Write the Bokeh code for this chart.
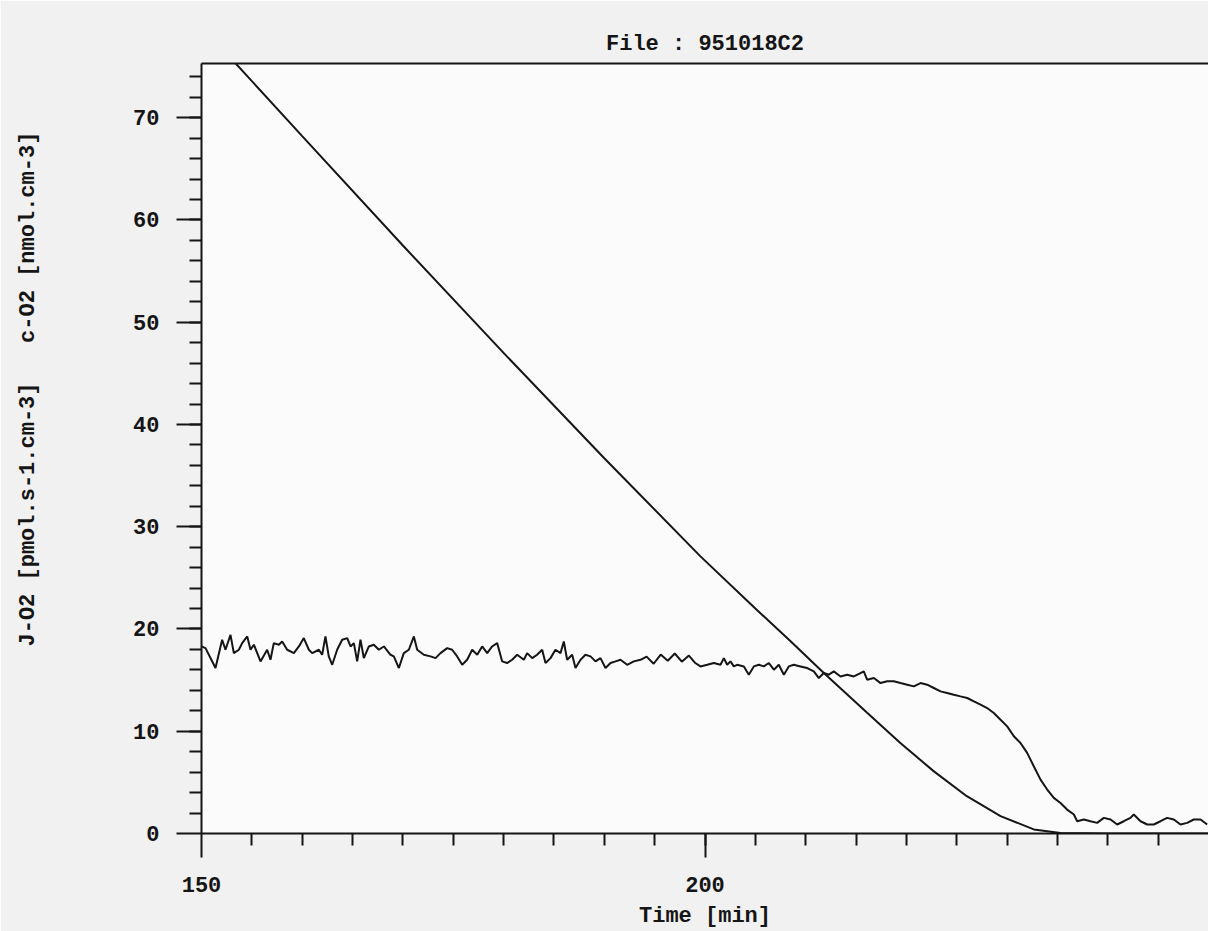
from bokeh.plotting import figure
from bokeh.models import FixedTicker, LinearAxis, Range1d
from bokeh.embed import file_html
from bokeh.resources import INLINE

# ---------------- data ----------------
title_text = "File : 951018C2"
x_label = "Time [min]"
y_label = "J-O2 [pmol.s-1.cm-3]\u00a0\u00a0\u00a0c-O2 [nmol.cm-3]"

x_major = [150, 200]
x_minor = list(range(155, 250, 5))
y_major = [0, 10, 20, 30, 40, 50, 60, 70]
y_minor = list(range(2, 76, 2))

# oxygen concentration c-O2 [nmol.cm-3]
conc_time = [153.4, 160.0, 170.0, 180.0, 190.0, 199.55, 205.0, 208.5, 211.8, 216.1,
             219.4, 222.7, 226.0, 229.35, 232.65, 235.3, 240.0, 250.0]
conc_value = [75.3, 68.2, 57.5, 47.0, 36.7, 27.1, 22.0, 18.8, 15.7, 11.8,
              8.85, 6.1, 3.65, 1.7, 0.4, 0.05, 0.0, 0.0]

# oxygen flux J-O2 [pmol.s-1.cm-3]
flux_time = [150.0, 150.40, 151.39, 152.05, 152.38, 152.88, 153.21, 153.71, 154.04,
             154.54, 154.87, 155.20, 155.86, 156.52, 156.85, 157.18, 157.68, 158.01,
             158.51, 159.17, 159.67, 160.16, 160.66, 160.99, 161.65, 161.98, 162.31,
             162.64, 162.98, 163.47, 163.97, 164.47, 164.80, 165.13, 165.46, 165.79,
             166.12, 166.62, 167.11, 167.61, 168.11, 168.77, 169.10, 169.60, 170.09,
             170.59, 171.09, 171.42, 172.08, 172.74, 173.24, 173.73, 174.40, 174.89,
             175.39, 175.89, 176.38, 176.88, 177.38, 177.87, 178.37, 178.86, 179.36,
             179.86, 180.35, 180.85, 181.35, 182.01, 182.34, 182.84, 183.33, 183.83,
             184.16, 184.66, 185.15, 185.65, 185.98, 186.31, 186.81, 187.14, 187.64,
             188.13, 188.63, 189.13, 189.62, 190.12, 190.62, 191.11, 191.61, 192.27,
             192.93, 193.60, 194.2, 194.9, 195.6, 196.3, 197.0, 197.7, 198.4, 199.0,
             199.55, 200.22, 200.88, 201.54, 201.87, 202.20, 202.53, 202.86, 203.19,
             203.86, 204.35, 204.85, 205.35, 205.84, 206.34, 206.84, 207.33, 207.83,
             208.32, 208.82, 209.48, 210.15, 210.81, 211.30, 211.80, 212.30, 212.79,
             213.46, 214.12, 214.78, 215.44, 215.77, 216.10, 216.77, 217.43, 218.09,
             218.75, 219.41, 220.08, 220.74, 221.40, 222.06, 222.72, 223.39, 224.05,
             224.71, 225.37, 226.04, 226.70, 227.36, 228.02, 228.68, 229.35, 230.01,
             230.67, 231.33, 231.99, 232.65, 233.32, 233.98, 234.64, 235.30, 235.96,
             236.63, 236.96, 237.62, 238.28, 238.94, 239.61, 240.27, 240.93, 241.59,
             242.25, 242.58, 243.25, 243.91, 244.57, 245.23, 245.89, 246.56, 247.22,
             247.88, 248.54, 249.21, 249.87]
flux_value = [18.3, 18.13, 16.18, 18.95, 17.97, 19.43, 17.64, 17.97, 18.62,
              19.27, 17.97, 18.46, 16.83, 17.97, 16.99, 18.62, 18.46, 18.78,
              17.97, 17.64, 18.29, 19.11, 17.97, 17.64, 17.97, 17.48, 19.27,
              17.32, 16.50, 17.97, 18.95, 19.11, 18.29, 18.62, 16.83, 18.95,
              17.15, 18.29, 18.46, 17.97, 18.29, 17.48, 17.32, 16.18, 17.64,
              17.97, 19.27, 17.97, 17.48, 17.32, 17.15, 17.64, 18.13, 17.97,
              17.32, 16.50, 16.99, 17.97, 17.48, 18.29, 17.64, 18.29, 18.62,
              16.83, 16.67, 16.99, 17.48, 16.99, 17.64, 17.15, 17.48, 17.97,
              16.67, 17.15, 17.97, 17.64, 18.78, 16.99, 17.48, 16.18, 16.99,
              17.48, 17.32, 16.83, 17.15, 16.18, 16.67, 16.83, 16.99, 16.50,
              16.83, 16.99, 17.3, 16.6, 17.5, 16.9, 17.6, 16.8, 17.4, 16.7,
              16.34, 16.50, 16.67, 16.50, 17.15, 16.50, 16.83, 16.34, 16.50,
              16.34, 15.53, 16.34, 16.50, 16.34, 16.67, 16.02, 16.50, 15.53,
              16.34, 16.50, 16.34, 16.18, 15.85, 15.20, 15.69, 15.53, 15.85,
              15.36, 15.53, 15.36, 15.69, 15.85, 15.04, 15.20, 14.71, 14.88,
              14.88, 14.71, 14.55, 14.39, 14.71, 14.55, 14.23, 13.90, 13.74,
              13.57, 13.41, 13.25, 12.92, 12.60, 12.27, 11.78, 11.13, 10.48,
              9.51, 8.85, 7.88, 6.58, 5.27, 4.30, 3.48, 2.99, 2.34,
              1.86, 1.20, 1.37, 1.20, 1.04, 1.53, 1.37, 0.88, 1.20,
              1.53, 1.86, 1.20, 0.88, 0.88, 1.20, 1.53, 1.37, 0.88,
              1.04, 1.37, 1.37, 0.88]

# ---------------- figure ----------------
FONT = "Liberation Mono"
INK = "#151515"

p = figure(width=1208, height=931,
           x_range=Range1d(150, 250), y_range=Range1d(0, 75.3),
           output_backend="svg", toolbar_location=None,
           title=title_text,
           min_border_left=201, min_border_right=0,
           min_border_top=63, min_border_bottom=97)

p.grid.visible = False
p.outline_line_color = None
p.background_fill_color = "#fbfbfb"
p.border_fill_color = "#f1f1f1"

p.title.align = "center"
p.title.text_font = FONT
p.title.text_font_style = "bold"
p.title.text_font_size = "22px"
p.title.text_color = INK
p.title.standoff = 14

for ax in (p.xaxis[0], p.yaxis[0]):
    ax.axis_line_width = 2
    ax.axis_line_color = INK
    ax.major_tick_line_width = 2
    ax.minor_tick_line_width = 2
    ax.major_tick_line_color = INK
    ax.minor_tick_line_color = INK
    ax.major_tick_in = 0
    ax.minor_tick_in = 0
    ax.major_label_text_font = FONT
    ax.major_label_text_font_style = "bold"
    ax.major_label_text_font_size = "22px"
    ax.major_label_text_color = INK

xa = p.xaxis[0]
xa.ticker = FixedTicker(ticks=x_major, minor_ticks=x_minor)
xa.major_tick_out = 24
xa.minor_tick_out = 12
xa.major_label_standoff = 19
xa.axis_label = x_label
xa.axis_label_text_font = FONT
xa.axis_label_text_font_style = "bold"
xa.axis_label_text_font_size = "22px"
xa.axis_label_text_color = INK
xa.axis_label_standoff = 9

ya = p.yaxis[0]
ya.ticker = FixedTicker(ticks=y_major, minor_ticks=y_minor)
ya.major_tick_out = 25
ya.minor_tick_out = 12
ya.major_label_standoff = 17

# top frame line
top = LinearAxis(ticker=FixedTicker(ticks=[]), axis_line_width=2, axis_line_color=INK,
                 major_tick_line_color=None, minor_tick_line_color=None,
                 major_label_text_font_size="0px")
p.add_layout(top, "above")

# outer, invisible axis that only carries the y title; leading no-break
# spaces move the visible words up, as in the original print-out
ylab_axis = LinearAxis(ticker=FixedTicker(ticks=[]),
                       axis_line_color=None, major_tick_line_color=None,
                       minor_tick_line_color=None, major_label_text_font_size="0px",
                       axis_label="\u00a0" * 9 + y_label, axis_label_standoff=90,
                       axis_label_text_font=FONT, axis_label_text_font_style="bold",
                       axis_label_text_font_size="22px", axis_label_text_color=INK)
p.add_layout(ylab_axis, "left")

p.line(conc_time, conc_value, line_width=2, line_color=INK)
p.line(flux_time, flux_value, line_width=2, line_color=INK)

open("out.html", "w").write(file_html(p, INLINE))
